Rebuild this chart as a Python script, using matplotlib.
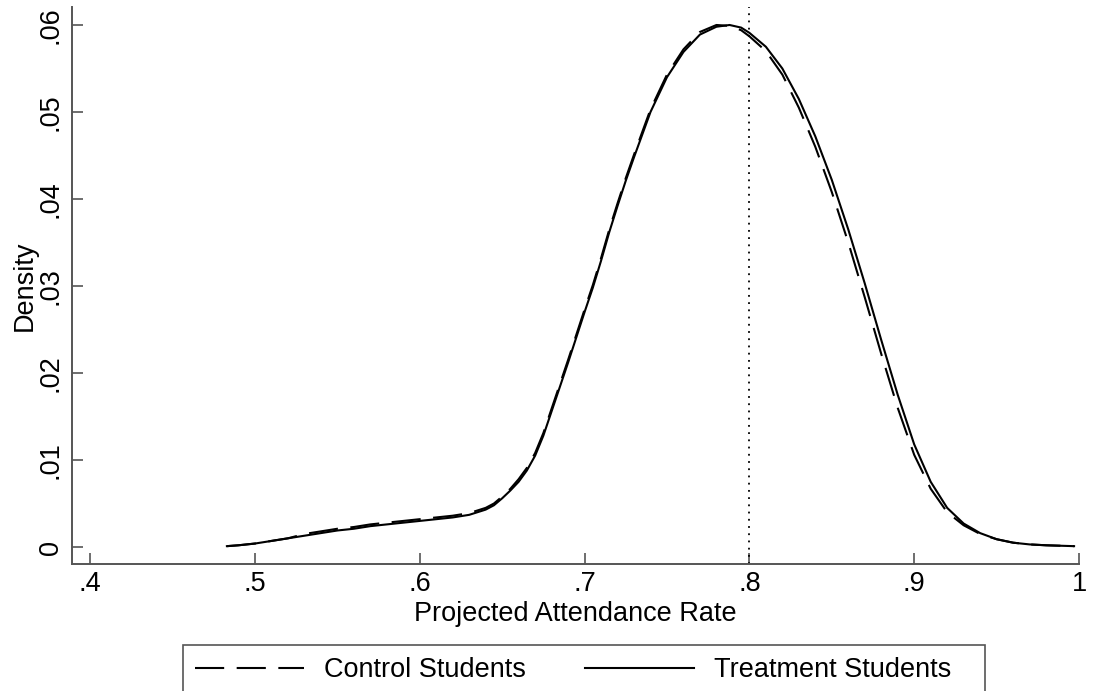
import matplotlib
matplotlib.use("Agg")
import matplotlib.pyplot as plt
from matplotlib.lines import Line2D
from matplotlib.patches import Rectangle

# attendance rate grid
rate = [0.483, 0.490, 0.500, 0.510, 0.520, 0.530, 0.540, 0.550, 0.560, 0.570,
        0.580, 0.590, 0.600, 0.610, 0.620, 0.630, 0.640, 0.645, 0.650, 0.655,
        0.660, 0.665, 0.670, 0.675, 0.680, 0.685, 0.690, 0.695, 0.700, 0.705,
        0.710, 0.715, 0.720, 0.725, 0.730, 0.740, 0.750, 0.760, 0.770, 0.780,
        0.788, 0.795, 0.800, 0.810, 0.820, 0.830, 0.840, 0.850, 0.860, 0.870,
        0.880, 0.890, 0.900, 0.910, 0.920, 0.930, 0.940, 0.950, 0.960, 0.970,
        0.980, 0.997]

treatment = [0.0001, 0.0002, 0.0004, 0.0007, 0.0010, 0.0013, 0.0016, 0.0019, 0.0021, 0.0024,
             0.0026, 0.0028, 0.0030, 0.0032, 0.0034, 0.0037, 0.0043, 0.0048, 0.0056, 0.0065,
             0.0075, 0.0088, 0.0105, 0.0128, 0.0156, 0.0184, 0.0212, 0.0241, 0.0270, 0.0298,
             0.0329, 0.0362, 0.0392, 0.0421, 0.0448, 0.0500, 0.0540, 0.0569, 0.0589, 0.0598,
             0.0600, 0.0597, 0.0591, 0.0575, 0.0550, 0.0515, 0.0472, 0.0422, 0.0365, 0.0303,
             0.0238, 0.0175, 0.0118, 0.0075, 0.0045, 0.0027, 0.0016, 0.0009, 0.0005, 0.0003,
             0.0002, 0.0001]

control = [0.0001, 0.0002, 0.0004, 0.0007, 0.0010, 0.0015, 0.0018, 0.0021, 0.0023, 0.0026,
           0.0028, 0.0030, 0.0032, 0.0034, 0.0036, 0.0039, 0.0045, 0.0050, 0.0058, 0.0067,
           0.0078, 0.0091, 0.0108, 0.0131, 0.0159, 0.0187, 0.0215, 0.0244, 0.0273, 0.0301,
           0.0332, 0.0365, 0.0395, 0.0424, 0.0451, 0.0503, 0.0543, 0.0572, 0.0592, 0.0600,
           0.0599, 0.0594, 0.0587, 0.0570, 0.0543, 0.0505, 0.0460, 0.0408, 0.0350, 0.0287,
           0.0222, 0.0160, 0.0106, 0.0067, 0.0040, 0.0025, 0.0015, 0.0009, 0.0005, 0.0003,
           0.0002, 0.0001]

xticks = [0.4, 0.5, 0.6, 0.7, 0.8, 0.9, 1.0]
xtick_labels = [".4", ".5", ".6", ".7", ".8", ".9", "1"]
yticks = [0, 0.01, 0.02, 0.03, 0.04, 0.05, 0.06]
ytick_labels = ["0", ".01", ".02", ".03", ".04", ".05", ".06"]
cutoff = 0.8

plt.rcParams['font.family'] = ['Liberation Sans', 'DejaVu Sans']
fs = 19.5
W, H = 1094, 691

fig = plt.figure(figsize=(W / 100, H / 100), dpi=100)
ax = fig.add_axes([0.0658, 0.1838, 0.9205, 0.8061])

dash = (0, (14, 6))
ax.plot(rate, control, color='black', lw=1.5, linestyle=dash)
ax.plot(rate, treatment, color='black', lw=1.5)
ax.axvline(cutoff, color='black', lw=1.3, linestyle=(0, (1, 3)))

ax.set_xlim(0.389, 1.0)
ax.set_ylim(-0.00195, 0.06207)
ax.set_xticks(xticks)
ax.set_xticklabels(xtick_labels)
ax.set_yticks(yticks)
ax.set_yticklabels(ytick_labels, rotation=90, va='center')

for side in ['top', 'right']:
    ax.spines[side].set_visible(False)
for side in ['left', 'bottom']:
    ax.spines[side].set_color('#555555')
    ax.spines[side].set_linewidth(1.4)
ax.tick_params(direction='in', length=8, width=1.2, color='#555555',
               labelsize=fs)
ax.tick_params(axis='x', pad=5)
ax.tick_params(axis='y', pad=6)

ax.set_xlabel("Projected Attendance Rate", fontsize=fs, labelpad=3)
ax.set_ylabel("Density", fontsize=fs, labelpad=0)

# legend box runs off the bottom edge, as in the original export
fig.patches.append(Rectangle((183 / W, -0.05), (985 - 183) / W, 0.05 + 1 - 645 / H,
                             transform=fig.transFigure, fill=False,
                             edgecolor='#555555', linewidth=1.2))
handles = [Line2D([], [], color='black', lw=1.5, linestyle=dash),
           Line2D([], [], color='black', lw=1.5)]
leg = fig.legend(handles, ["Control Students", "Treatment Students"],
                 loc='upper left', bbox_to_anchor=(183 / W, 1 - 645 / H),
                 ncol=2, fontsize=fs, frameon=False,
                 handlelength=4.0, handletextpad=0.75, columnspacing=2.2,
                 borderpad=0.45, borderaxespad=0)

fig.savefig("out.png", dpi=100)
